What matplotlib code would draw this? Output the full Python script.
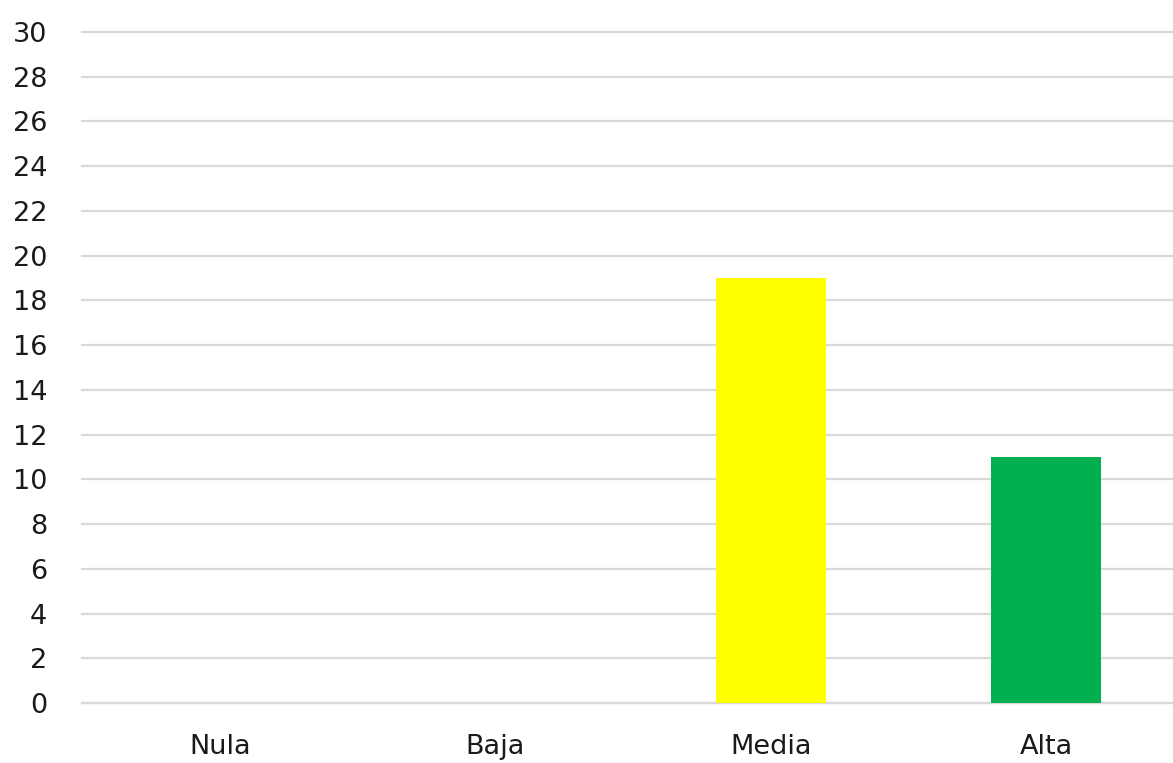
import matplotlib.pyplot as plt
import numpy as np

# Data
categories = ["Nula", "Baja", "Media", "Alta"]
values = [0, 0, 19, 11]
colors = ["#4472c4", "#ed7d31", "#ffff00", "#00b050"]
y_ticks = list(range(0, 31, 2))

plt.rcParams["font.family"] = ["DejaVu Sans"]

fig = plt.figure(figsize=(11.73, 7.63), dpi=100)
# plot area runs off the right edge of the canvas
ax = fig.add_axes([82 / 1173, (763 - 703) / 763, 1102 / 1173, 671 / 763])

x = np.arange(len(categories))
ax.bar(x, values, width=0.40, color=colors, zorder=3)

ax.set_xlim(-0.5, len(categories) - 0.5)
ax.set_ylim(0, 30)
ax.set_yticks(y_ticks)
ax.set_xticks(x)
ax.set_xticklabels(categories)

ax.grid(axis="y", color="#d9d9d9", linewidth=1.6, zorder=0)
ax.set_axisbelow(True)
# keep the top gridline full width at the axes edge
for line in ax.get_ygridlines():
    line.set_clip_on(False)
for side in ["top", "right", "left"]:
    ax.spines[side].set_visible(False)
ax.spines["bottom"].set_color("#d9d9d9")
ax.spines["bottom"].set_linewidth(1.6)

ax.tick_params(axis="y", length=0, pad=25, labelsize=19.5, labelcolor="#1a1a1a")
ax.tick_params(axis="x", length=0, pad=22, labelsize=19.5, labelcolor="#1a1a1a")

fig.savefig("out.png", dpi=100)
